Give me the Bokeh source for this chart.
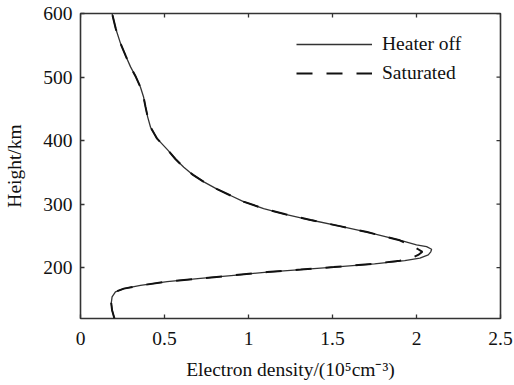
import math
from bokeh.plotting import figure
from bokeh.models import FixedTicker, Range1d
from bokeh.embed import file_html
from bokeh.resources import INLINE

# ---- data ----
height_km = [120, 133, 144, 154, 162, 167, 172, 178, 183, 188, 193, 197, 201,
             206, 211, 215, 220, 225, 229, 233, 236, 243, 256, 265, 275, 284,
             293, 304, 314, 324, 335, 346, 358, 371, 385, 403, 421, 437, 453,
             469, 484, 500, 516, 534, 553, 576, 600]
heater_off = [0.202, 0.188, 0.183, 0.188, 0.208, 0.258, 0.357, 0.516, 0.714,
              0.913, 1.111, 1.310, 1.508, 1.750, 1.930, 2.020, 2.070, 2.085,
              2.090, 2.060, 2.000, 1.905, 1.706, 1.550, 1.370, 1.220, 1.090,
              0.970, 0.890, 0.810, 0.734, 0.670, 0.615, 0.565, 0.520, 0.456,
              0.417, 0.400, 0.387, 0.375, 0.357, 0.330, 0.298, 0.268, 0.238,
              0.210, 0.188]
saturated = [0.202, 0.188, 0.183, 0.188, 0.208, 0.258, 0.357, 0.516, 0.714,
             0.913, 1.111, 1.310, 1.508, 1.740, 1.900, 1.970, 2.010, 2.035,
             2.010, 1.985, 1.960, 1.900, 1.706, 1.550, 1.370, 1.220, 1.090,
             0.970, 0.890, 0.810, 0.734, 0.670, 0.615, 0.565, 0.520, 0.456,
             0.417, 0.400, 0.387, 0.375, 0.357, 0.330, 0.298, 0.268, 0.238,
             0.210, 0.188]

x_ticks = [0, 0.5, 1, 1.5, 2, 2.5]
x_tick_labels = ["0", "0.5", "1", "1.5", "2", "2.5"]
y_ticks = [200, 300, 400, 500, 600]
y_tick_labels = ["200", "300", "400", "500", "600"]
series_names = ["Heater off", "Saturated"]
x_lim = (0, 2.5)
y_lim = (120, 600)

FONT = "Liberation Serif"
TXT = "#111111"
AX = "#333333"

p = figure(width=514, height=385, output_backend="svg", toolbar_location=None,
           x_range=Range1d(*x_lim), y_range=Range1d(*y_lim),
           min_border_left=80, min_border_right=14, min_border_top=13,
           min_border_bottom=67)
p.background_fill_color = "white"
p.border_fill_color = "white"
p.grid.visible = False
p.outline_line_color = AX
p.outline_line_width = 1.6

p.line(heater_off, height_km, line_color="#333333", line_width=1.3,
       legend_label=series_names[0])
p.line(saturated, height_km, line_color="#111111", line_width=2.0,
       line_dash="16 14", legend_label=series_names[1])

# inward ticks on the top and right edges of the box
p.ray(x=x_ticks, y=[y_lim[1]] * len(x_ticks), length=4, length_units="screen",
      angle=-math.pi / 2, line_color=AX, line_width=1.3)
p.ray(x=[x_lim[1]] * len(y_ticks), y=y_ticks, length=4, length_units="screen",
      angle=math.pi, line_color=AX, line_width=1.3)

def style_axis(ax, ticks, labels):
    ax.ticker = FixedTicker(ticks=ticks)
    ax.major_label_overrides = {t: l for t, l in zip(ticks, labels)}
    ax.minor_tick_line_color = None
    ax.major_tick_in = 4
    ax.major_tick_out = 0
    ax.major_tick_line_color = AX
    ax.major_tick_line_width = 1.3
    ax.axis_line_color = None
    ax.major_label_text_font = FONT
    ax.major_label_text_font_size = "19.5px"
    ax.major_label_text_color = TXT
    ax.axis_label_text_font = FONT
    ax.axis_label_text_font_size = "19.5px"
    ax.axis_label_text_font_style = "normal"
    ax.axis_label_text_color = TXT

xa = p.xaxis[0]
ya = p.yaxis[0]
style_axis(xa, x_ticks, x_tick_labels)
style_axis(ya, y_ticks, y_tick_labels)
xa.axis_label = "Electron density/(10\u2075cm\u207b\u00b3)"
ya.axis_label = "Height/km"
xa.major_label_standoff = 13
ya.major_label_standoff = 8
xa.axis_label_standoff = 11
ya.axis_label_standoff = 15

lg = p.legend[0]
lg.location = (216, 234)
lg.border_line_color = None
lg.background_fill_alpha = 0
lg.padding = 0
lg.margin = 0
lg.spacing = 7
lg.glyph_width = 76
lg.glyph_height = 20
lg.label_height = 20
lg.label_standoff = 10
lg.label_text_font = FONT
lg.label_text_font_size = "19.5px"
lg.label_text_color = TXT

open("out.html", "w").write(file_html(p, INLINE))
